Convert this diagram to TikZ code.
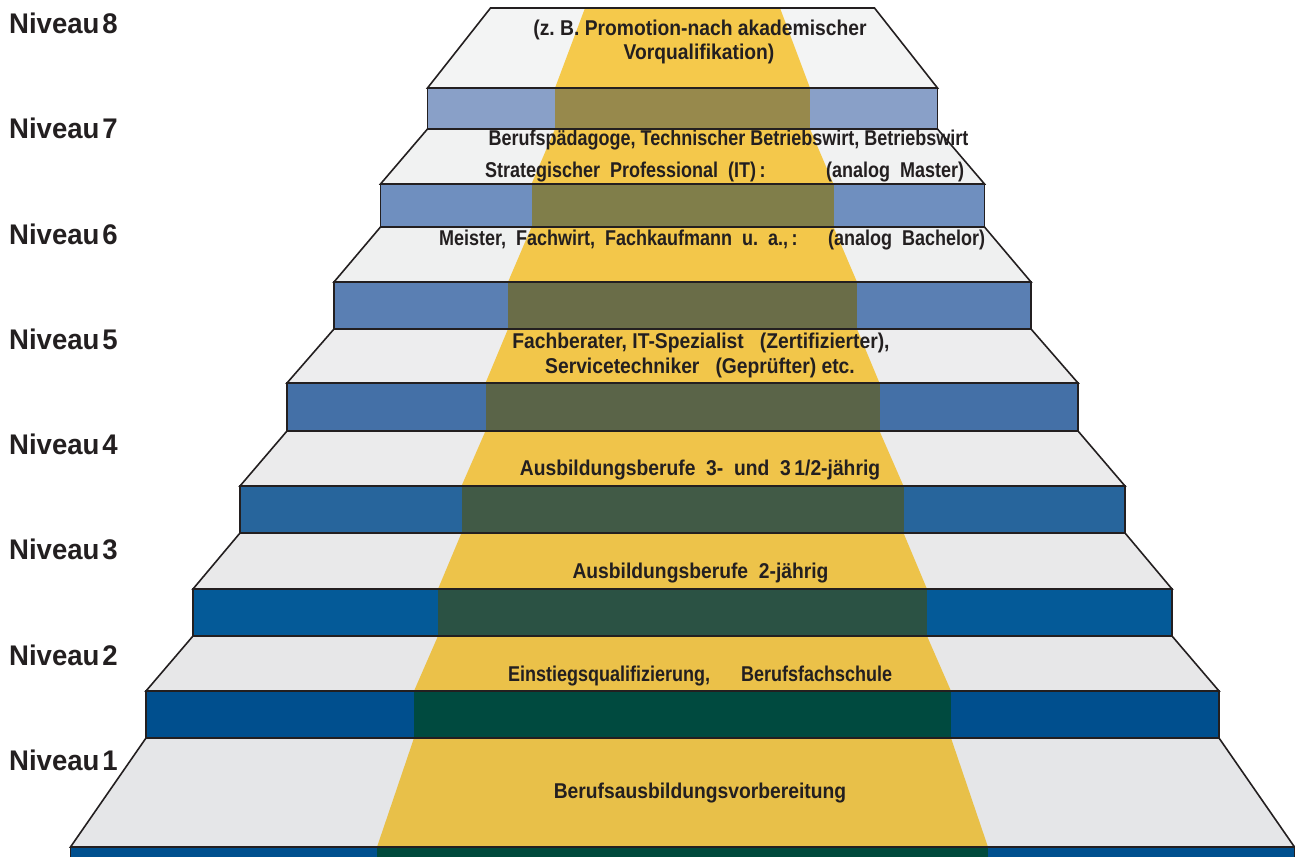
\documentclass[tikz,border=0pt]{standalone}
\usepackage{fontspec}
\newfontfamily\lfont{Liberation Sans}[FakeStretch=0.97]
\newfontfamily\dfont{Liberation Sans}[FakeStretch=0.9]
\newfontfamily\cfont{Liberation Sans}[FakeStretch=0.84]
\definecolor{lc}{HTML}{231F20}
\definecolor{tc}{HTML}{231F20}
% top faces (grey)
\definecolor{g8}{HTML}{F3F4F4}
\definecolor{g7}{HTML}{F1F2F2}
\definecolor{g6}{HTML}{EFF0F0}
\definecolor{g5}{HTML}{EDEDEE}
\definecolor{g4}{HTML}{EBEBEC}
\definecolor{g3}{HTML}{E9E9EA}
\definecolor{g2}{HTML}{E7E7E8}
\definecolor{g1}{HTML}{E5E6E8}
% carpet on top faces (yellow)
\definecolor{y8}{HTML}{F5C94B}
\definecolor{y7}{HTML}{F4C84B}
\definecolor{y6}{HTML}{F3C74A}
\definecolor{y5}{HTML}{F2C64A}
\definecolor{y4}{HTML}{F0C44A}
\definecolor{y3}{HTML}{EDC34A}
\definecolor{y2}{HTML}{EBC149}
\definecolor{y1}{HTML}{E8C049}
% front faces (blue)
\definecolor{b8}{HTML}{89A0C8}
\definecolor{b7}{HTML}{6F8FBF}
\definecolor{b6}{HTML}{5A7FB3}
\definecolor{b5}{HTML}{4470A7}
\definecolor{b4}{HTML}{27659C}
\definecolor{b3}{HTML}{045A98}
\definecolor{b2}{HTML}{004F8E}
\definecolor{b1}{HTML}{00508F}
% carpet on front faces
\definecolor{d8}{HTML}{97894C}
\definecolor{d7}{HTML}{807E4A}
\definecolor{d6}{HTML}{6A6D48}
\definecolor{d5}{HTML}{5A6448}
\definecolor{d4}{HTML}{415A46}
\definecolor{d3}{HTML}{2B5244}
\definecolor{d2}{HTML}{004A3F}
\definecolor{d1}{HTML}{004A3C}
\begin{document}
\begin{tikzpicture}[x=1bp,y=-1bp,
  edge/.style={draw=lc, line width=1.6bp, line join=miter},
  lvl/.style={anchor=base west, text=tc, inner sep=0pt,
    font=\lfont\bfseries\fontsize{28.5}{30}\selectfont},
  ctr/.style={anchor=base, text=tc, inner sep=0pt,
    font=\dfont\bfseries\fontsize{21.5}{23}\selectfont},
  ctrw/.style={ctr, anchor=base west},
  cnw/.style={anchor=base west, text=tc, inner sep=0pt,
    font=\cfont\bfseries\fontsize{21.5}{23}\selectfont},
  cnc/.style={cnw, anchor=base}]
\useasboundingbox (0,0) rectangle (1295,857);
\begin{scope}
\clip (0,0) rectangle (1295,857);
\foreach \ytt/\yft/\yfb/\Wt/\W/\Ct/\C/\n in {
  8/88/129/192/255/97.5/127.5/8,
  129/184/227/255/302/127.5/151/7,
  227/282/329/302/348.5/151/174.5/6,
  329/383/431/348.5/395.5/174.5/197/5,
  431/486/533/395.5/442.5/197/221/4,
  533/589/636/442.5/489.5/221/244.5/3,
  636/691/738/489.5/536.5/244.5/268.5/2,
  738/847/880/536.5/612/268.5/305.5/1}{
  % top face
  \fill[fill=g\n] ({682.5-\Wt},\ytt) -- ({682.5+\Wt},\ytt) -- ({682.5+\W},\yft) -- ({682.5-\W},\yft) -- cycle;
  \fill[fill=y\n] ({682.5-\Ct},\ytt) -- ({682.5+\Ct},\ytt) -- ({682.5+\C},\yft) -- ({682.5-\C},\yft) -- cycle;
  \draw[edge] ({682.5-\Wt},\ytt) -- ({682.5+\Wt},\ytt) -- ({682.5+\W},\yft) -- ({682.5-\W},\yft) -- cycle;
  % front face
  \fill[fill=b\n] ({682.5-\W},\yft) rectangle ({682.5+\W},\yfb);
  \fill[fill=d\n] ({682.5-\C},\yft) rectangle ({682.5+\C},\yfb);
  \draw[edge] ({682.5-\W},\yft) rectangle ({682.5+\W},\yfb);
}
\end{scope}
% level labels
\node[lvl] (n8) at (9,33.5) {Niveau\hspace{3bp}8};
\node[lvl] (n7) at (9,138.5) {Niveau\hspace{3bp}7};
\node[lvl] (n6) at (9,244) {Niveau\hspace{3bp}6};
\node[lvl] (n5) at (9,349) {Niveau\hspace{3bp}5};
\node[lvl] (n4) at (9,454) {Niveau\hspace{3bp}4};
\node[lvl] (n3) at (9,559.5) {Niveau\hspace{3bp}3};
\node[lvl] (n2) at (9,665) {Niveau\hspace{3bp}2};
\node[lvl] (n1) at (9,770) {Niveau\hspace{3bp}1};
% step texts
\node[ctr] (t8a) at (700,35) {(z.\ B. Promotion-nach akademischer};
\node[ctr] (t8b) at (699,59) {Vorqualifikation)};
\node[cnc] (t7a) at (728.5,145) {Berufspädagoge, Technischer Betriebswirt, Betriebswirt};
\node[cnw] (t7b) at (485,177) {Strategischer\ \ Professional\ \ (IT)\,:};
\node[cnw] (t7c) at (826,177) {(analog\ \ Master)};
\node[cnw] (t6a) at (439,245) {Meister,\ \ Fachwirt,\ \ Fachkaufmann\ \ u.\ \ a.,\,:};
\node[cnw] (t6b) at (828,245) {(analog\ \ Bachelor)};
\node[ctr] (t5a) at (701,348) {Fachberater, IT-Spezialist\ \ \ (Zertifizierter),};
\node[ctr] (t5b) at (700,373) {Servicetechniker\ \ \ (Geprüfter) etc.};
\node[ctr] (t4) at (700,475) {Ausbildungsberufe\ \ 3-\ \ und\ \ 3\,1/2-jährig};
\node[ctr] (t3) at (700.5,578) {Ausbildungsberufe\ \ 2-jährig};
\node[cnw] (t2a) at (508,681) {Einstiegsqualifizierung,};
\node[cnw] (t2b) at (741,681) {Berufsfachschule};
\node[ctr] (t1) at (700,798) {Berufsausbildungsvorbereitung};
\end{tikzpicture}
\end{document}
